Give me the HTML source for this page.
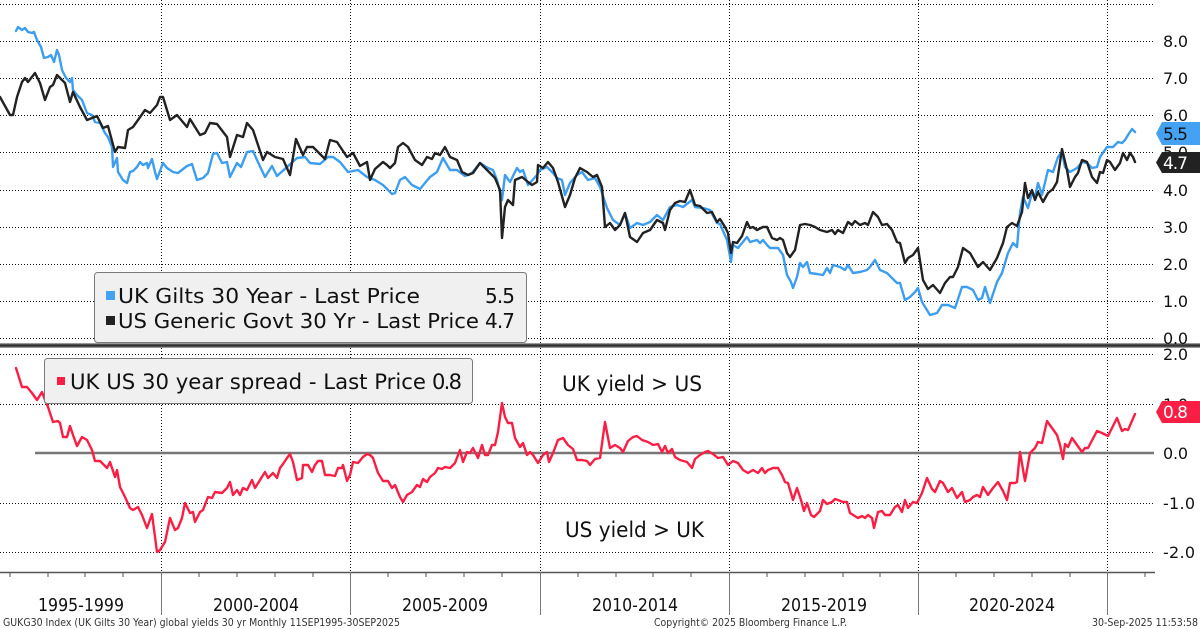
<!DOCTYPE html>
<html><head><meta charset="utf-8"><style>
html,body{margin:0;padding:0;background:#fff;}
svg{display:block;}
svg text{font-family:"DejaVu Sans","Liberation Sans",sans-serif;}
</style></head><body>
<svg width="1200" height="629" viewBox="0 0 1200 629" xmlns="http://www.w3.org/2000/svg" font-family="DejaVu Sans, Liberation Sans, sans-serif">
<rect width="1200" height="629" fill="#fff"/>
<g stroke="#111" stroke-width="1" stroke-dasharray="1 2" fill="none">
<line x1="0" y1="4.5" x2="1154" y2="4.5"/>
<line x1="0" y1="41.5" x2="1154" y2="41.5"/>
<line x1="0" y1="78.5" x2="1154" y2="78.5"/>
<line x1="0" y1="115.5" x2="1154" y2="115.5"/>
<line x1="0" y1="152.5" x2="1154" y2="152.5"/>
<line x1="0" y1="190.5" x2="1154" y2="190.5"/>
<line x1="0" y1="227.5" x2="1154" y2="227.5"/>
<line x1="0" y1="264.5" x2="1154" y2="264.5"/>
<line x1="0" y1="301.5" x2="1154" y2="301.5"/>
<line x1="0" y1="338.5" x2="1154" y2="338.5"/>
<line x1="0" y1="354.5" x2="1154" y2="354.5"/>
<line x1="0" y1="404.5" x2="1154" y2="404.5"/>
<line x1="0" y1="503.5" x2="1154" y2="503.5"/>
<line x1="0" y1="552.5" x2="1154" y2="552.5"/>
<line x1="161.5" y1="0" x2="161.5" y2="572"/>
<line x1="350.5" y1="0" x2="350.5" y2="572"/>
<line x1="540.5" y1="0" x2="540.5" y2="572"/>
<line x1="729.5" y1="0" x2="729.5" y2="572"/>
<line x1="918.5" y1="0" x2="918.5" y2="572"/>
<line x1="1107.5" y1="0" x2="1107.5" y2="572"/>
</g>
<line x1="35" y1="453" x2="1154" y2="453" stroke="#777" stroke-width="2.5"/>
<rect x="0" y="343" width="1200" height="5" fill="#999"/>
<line x1="0" y1="345.5" x2="1200" y2="345.5" stroke="#333" stroke-width="2.5"/>
<line x1="0" y1="572.5" x2="1155" y2="572.5" stroke="#555" stroke-width="1.5"/>
<g stroke="#777" stroke-width="1">
<line x1="161.5" y1="572" x2="161.5" y2="615"/>
<line x1="350.5" y1="572" x2="350.5" y2="615"/>
<line x1="540.5" y1="572" x2="540.5" y2="615"/>
<line x1="729.5" y1="572" x2="729.5" y2="615"/>
<line x1="918.5" y1="572" x2="918.5" y2="615"/>
<line x1="1107.5" y1="572" x2="1107.5" y2="615"/>
</g>
<g stroke="#555" stroke-width="1">
<line x1="10" y1="572" x2="10" y2="577"/><line x1="48" y1="572" x2="48" y2="577"/><line x1="85" y1="572" x2="85" y2="577"/><line x1="123" y1="572" x2="123" y2="577"/>
<line x1="199" y1="572" x2="199" y2="577"/><line x1="237" y1="572" x2="237" y2="577"/><line x1="275" y1="572" x2="275" y2="577"/><line x1="313" y1="572" x2="313" y2="577"/>
<line x1="388" y1="572" x2="388" y2="577"/><line x1="426" y1="572" x2="426" y2="577"/><line x1="464" y1="572" x2="464" y2="577"/><line x1="502" y1="572" x2="502" y2="577"/>
<line x1="578" y1="572" x2="578" y2="577"/><line x1="616" y1="572" x2="616" y2="577"/><line x1="653" y1="572" x2="653" y2="577"/><line x1="691" y1="572" x2="691" y2="577"/>
<line x1="767" y1="572" x2="767" y2="577"/><line x1="805" y1="572" x2="805" y2="577"/><line x1="843" y1="572" x2="843" y2="577"/><line x1="880" y1="572" x2="880" y2="577"/>
<line x1="956" y1="572" x2="956" y2="577"/><line x1="994" y1="572" x2="994" y2="577"/><line x1="1032" y1="572" x2="1032" y2="577"/><line x1="1070" y1="572" x2="1070" y2="577"/>
<line x1="1145" y1="572" x2="1145" y2="577"/>
</g>
<g fill="none" stroke-width="2.4" stroke-linejoin="round" stroke-linecap="round">
<polyline stroke="#3d9ef0" points="16,31 18,27 22,30 25,28 28,32 32,33 34,32 37,40 41,47 44,58 48,57 51,55 54,62 57,50 59,55 62,70 66,78 70,82 72,78 73,90 77,95 82,100 87,113 92,115 95,122 100,123 105,133 108,137 112,147 113,167 117,158 118,172 123,180 127,183 130,172 133,171 137,167 140,162 143,165 147,163 148,168 152,159 155,172 157,179 163,163 167,168 173,172 178,173 187,166 192,164 197,180 203,178 208,173 213,154 217,153 222,163 227,162 230,177 237,163 241,167 247,152 253,151 257,160 265,177 272,166 277,176 287,167 297,158 305,157 310,163 320,164 328,157 333,157 340,162 348,172 358,170 367,177 375,180 383,185 392,194 395,193 400,180 405,177 412,185 420,189 430,177 437,172 443,158 450,170 457,170 465,176 472,173 480,163 488,168 493,170 497,180 502,200 505,175 510,182 517,168 520,172 523,170 528,185 537,175 540,170 547,167 553,173 557,178 562,180 565,195 570,183 577,175 582,172 588,180 595,178 600,187 607,208 613,220 620,225 625,213 630,228 637,223 643,225 650,222 657,215 663,220 670,207 677,205 683,207 692,200 695,207 703,208 710,210 717,223 720,224 727,240 731,262 733,245 738,248 742,243 747,237 750,242 757,240 760,243 763,240 767,245 770,248 778,248 783,255 787,275 791,282 793,288 797,277 800,263 803,267 807,262 810,273 817,274 823,275 827,268 830,273 833,265 840,267 845,270 848,265 853,273 860,272 867,270 870,267 875,260 880,270 887,273 892,278 897,283 900,283 905,300 910,297 915,292 918,288 922,302 930,315 937,313 942,305 948,305 955,308 962,287 967,287 973,290 978,300 982,298 985,287 990,303 997,282 1002,273 1008,253 1013,243 1017,247 1020,213 1023,197 1028,208 1032,193 1035,197 1038,183 1042,195 1048,170 1053,172 1058,157 1062,152 1065,167 1070,172 1077,168 1082,162 1087,163 1092,168 1097,167 1100,157 1107,147 1113,147 1118,142 1122,143 1125,140 1128,135 1132,129 1135,132"/>
<polyline stroke="#222" points="0,97 10,115 13,115 17,97 22,82 25,78 28,82 35,73 40,83 45,100 50,87 53,85 57,75 60,78 65,83 70,102 73,92 80,107 87,120 97,116 103,128 108,126 115,152 118,147 125,148 128,130 133,127 138,120 145,110 150,113 157,105 160,97 163,97 170,120 177,115 187,127 190,119 200,135 205,133 210,123 217,124 227,137 230,157 237,135 243,137 247,123 253,130 263,160 267,152 275,157 283,159 290,175 296,139 303,155 307,147 313,147 325,159 330,140 337,142 347,157 353,153 360,166 367,162 370,180 375,169 383,162 387,165 390,168 395,163 398,147 403,143 408,147 415,160 422,165 427,157 432,159 435,153 440,155 445,147 450,157 457,160 462,172 468,175 473,173 480,163 485,168 492,175 495,178 500,190 502,238 505,207 508,200 513,205 515,180 522,177 528,182 532,185 537,182 538,165 543,168 548,162 553,168 558,182 565,207 570,195 575,178 580,168 587,172 593,177 597,175 602,187 605,227 610,223 615,230 620,225 625,213 630,237 637,242 643,233 650,230 657,220 663,223 665,230 670,210 675,203 680,201 685,202 690,190 695,205 700,206 707,213 712,212 717,222 720,219 725,227 728,233 731,253 733,242 737,243 742,236 747,222 750,228 753,227 757,230 763,227 767,227 772,238 777,240 780,238 783,240 787,253 790,257 795,250 800,225 805,224 810,225 815,227 820,230 827,232 832,230 835,234 838,230 843,233 848,222 852,225 855,221 860,225 865,223 868,225 873,212 878,217 882,225 887,224 892,230 897,242 900,243 905,263 908,258 913,255 918,248 923,280 928,289 933,285 940,293 945,283 950,277 953,277 958,267 963,248 970,253 978,267 983,262 990,270 997,258 1003,243 1007,227 1012,223 1017,226 1022,212 1025,183 1028,198 1032,190 1035,200 1038,192 1043,202 1048,193 1053,189 1057,182 1062,149 1067,170 1070,187 1075,177 1078,173 1082,160 1087,162 1092,177 1097,183 1100,172 1103,173 1107,160 1110,162 1115,170 1120,163 1123,153 1127,160 1130,153 1133,157 1135,162"/>
<polyline stroke="#fb1e44" points="16,368 22,387 27,387 32,393 37,400 42,392 45,400 48,407 53,422 58,421 60,423 63,437 67,437 70,426 73,435 77,446 82,437 87,440 92,450 95,461 100,461 103,464 107,468 110,462 115,477 117,470 120,487 125,497 130,508 133,510 138,507 142,515 147,528 152,514 157,552 160,550 165,542 170,518 175,530 178,528 182,518 185,503 190,513 193,512 195,522 200,512 203,510 208,497 212,498 215,492 222,493 227,488 230,482 233,495 237,490 240,495 243,488 247,490 252,480 255,488 260,480 265,472 268,478 273,473 277,478 280,468 283,464 287,458 290,454 293,462 297,480 302,478 303,465 308,465 312,472 315,465 318,461 322,461 325,475 330,475 335,476 338,468 342,468 343,465 347,481 350,475 353,462 358,463 363,457 367,454 370,455 373,458 378,473 383,481 388,481 392,488 395,485 400,497 403,502 407,495 412,492 417,485 420,487 423,479 427,482 430,477 435,473 438,468 442,469 445,467 450,468 455,463 460,450 463,462 467,452 470,453 473,448 478,458 482,445 485,455 488,455 492,445 495,445 498,432 502,403 505,417 508,423 512,423 515,438 520,447 523,443 527,455 530,452 533,455 538,463 543,455 547,452 549,462 553,453 558,440 563,438 568,445 573,449 577,460 582,460 587,461 590,465 595,459 600,458 605,422 610,448 615,445 620,448 623,452 628,441 633,437 637,436 642,440 648,442 653,445 658,444 662,452 665,446 668,453 672,449 675,457 680,460 687,462 692,468 695,459 700,455 705,452 708,451 713,454 718,458 723,457 728,465 733,461 738,463 743,470 748,473 753,470 758,473 762,468 765,473 768,470 773,468 778,468 782,475 785,482 788,483 793,500 797,488 801,500 804,511 807,503 811,515 814,517 820,511 823,500 827,504 832,502 835,499 838,500 843,502 847,502 850,513 858,518 862,516 865,518 868,515 872,518 874,528 878,512 882,511 885,515 890,515 895,507 898,505 902,512 905,500 908,508 913,502 917,503 922,493 927,478 932,489 935,492 940,481 943,483 948,492 952,488 957,498 962,492 965,502 970,500 973,497 977,495 980,497 983,487 988,495 993,488 998,482 1003,491 1007,500 1010,483 1015,483 1017,482 1020,452 1025,481 1030,453 1035,448 1038,442 1042,443 1047,421 1052,428 1057,435 1060,445 1063,459 1065,444 1068,447 1072,438 1077,445 1082,452 1085,448 1088,448 1097,431 1102,433 1108,436 1113,426 1117,418 1122,431 1125,429 1128,430 1135,414"/>
</g>
<g font-size="16" fill="#111" font-family="DejaVu Sans, Liberation Sans, sans-serif">
<text x="1163" y="47" textLength="25">8.0</text>
<text x="1163" y="84" textLength="25">7.0</text>
<text x="1163" y="121" textLength="25">6.0</text>
<text x="1163" y="158" textLength="25">5.0</text>
<text x="1163" y="196" textLength="25">4.0</text>
<text x="1163" y="233" textLength="25">3.0</text>
<text x="1163" y="270" textLength="25">2.0</text>
<text x="1163" y="307" textLength="25">1.0</text>
<text x="1163" y="344" textLength="25">0.0</text>
<text x="1163" y="360" textLength="25">2.0</text>
<text x="1163" y="410" textLength="25">1.0</text>
<text x="1163" y="459" textLength="25">0.0</text>
<text x="1163" y="509" textLength="32">-1.0</text>
<text x="1163" y="558" textLength="32">-2.0</text>
</g>
<polygon points="1156,133.5 1162,122 1200,122 1200,145 1162,145" fill="#45a2f2"/>
<text x="1163" y="140" font-size="17" fill="#111" textLength="25" font-family="DejaVu Sans, Liberation Sans, sans-serif">5.5</text>
<polygon points="1156,162.5 1162,152 1200,152 1200,173 1162,173" fill="#222"/>
<text x="1163" y="169" font-size="17" fill="#fff" textLength="25" font-family="DejaVu Sans, Liberation Sans, sans-serif">4.7</text>
<polygon points="1156,412 1162,401 1200,401 1200,423 1162,423" fill="#f81e44"/>
<text x="1163" y="418" font-size="17" fill="#fff" textLength="25" font-family="DejaVu Sans, Liberation Sans, sans-serif">0.8</text>
<rect x="94.5" y="272.5" width="432" height="70" rx="3" fill="#f0f0f0" stroke="#7a7a7a" stroke-width="1"/>
<rect x="106" y="291" width="9" height="9" fill="#45a2f2"/>
<rect x="106" y="316" width="9" height="9" fill="#222"/>
<g font-size="20" fill="#111" font-family="DejaVu Sans, Liberation Sans, sans-serif">
<text x="118" y="303" textLength="302" lengthAdjust="spacingAndGlyphs">UK Gilts 30 Year - Last Price</text>
<text x="485" y="303" textLength="30">5.5</text>
<text x="118" y="328" textLength="361" lengthAdjust="spacingAndGlyphs">US Generic Govt 30 Yr - Last Price</text>
<text x="485" y="328" textLength="30">4.7</text>
</g>
<rect x="44.5" y="358.5" width="428" height="45" rx="3" fill="#f0f0f0" stroke="#7a7a7a" stroke-width="1"/>
<rect x="57" y="377" width="8" height="8" fill="#f81e44"/>
<g font-size="21" fill="#111" font-family="DejaVu Sans, Liberation Sans, sans-serif">
<text x="70" y="389" textLength="356" lengthAdjust="spacingAndGlyphs">UK US 30 year spread - Last Price</text>
<text x="432" y="389" textLength="30">0.8</text>
<text x="562" y="391" textLength="140" lengthAdjust="spacingAndGlyphs">UK yield &gt; US</text>
<text x="565" y="537" textLength="139" lengthAdjust="spacingAndGlyphs">US yield &gt; UK</text>
</g>
<g font-size="18" fill="#111" font-family="DejaVu Sans, Liberation Sans, sans-serif">
<text x="38" y="611" textLength="86" lengthAdjust="spacingAndGlyphs">1995-1999</text>
<text x="213" y="611" textLength="86" lengthAdjust="spacingAndGlyphs">2000-2004</text>
<text x="402" y="611" textLength="86" lengthAdjust="spacingAndGlyphs">2005-2009</text>
<text x="592" y="611" textLength="86" lengthAdjust="spacingAndGlyphs">2010-2014</text>
<text x="781" y="611" textLength="86" lengthAdjust="spacingAndGlyphs">2015-2019</text>
<text x="969" y="611" textLength="86" lengthAdjust="spacingAndGlyphs">2020-2024</text>
</g>
<g font-size="11" fill="#333" font-family="DejaVu Sans, Liberation Sans, sans-serif">
<text x="3" y="626" textLength="397" lengthAdjust="spacingAndGlyphs">GUKG30 Index (UK Gilts 30 Year) global yields 30 yr  Monthly 11SEP1995-30SEP2025</text>
<text x="654" y="626" textLength="193" lengthAdjust="spacingAndGlyphs">Copyright© 2025 Bloomberg Finance L.P.</text>
<text x="1092" y="626" textLength="106" lengthAdjust="spacingAndGlyphs">30-Sep-2025 11:53:58</text>
</g>
</svg>
</body></html>
